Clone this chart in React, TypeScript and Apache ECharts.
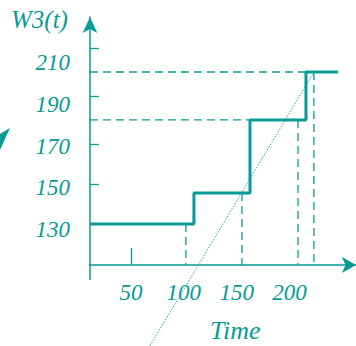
import React, { useEffect, useRef } from "react";
import * as echarts from "echarts";

// ----- data -----
const yLabelValues = [130, 150, 170, 190, 210];
const yTickValues = [151.8, 171, 194, 217];
const xLabelValues = [50, 100, 150, 200];
const xTickValues = [50];

// step curve W3(t): [t, W]
const stepPoints: [number, number][] = [
  [11.3, 132.6],
  [109.6, 132.6],
  [109.6, 147.5],
  [162.6, 147.5],
  [162.6, 182.5],
  [215.5, 182.5],
  [215.5, 205.5],
  [245.7, 205.5],
];

// dashed guide lines: horizontal [xFrom, xTo, y], vertical [x, yFrom]
const dashedHorizontal: [number, number, number][] = [
  [11.3, 215.5, 205.5],
  [11.3, 162.6, 182.5],
];
const dashedVertical: [number, number][] = [
  [102, 132.6],
  [155, 147.5],
  [208, 182.5],
  [223, 205.5],
];

// dotted line endpoints
const dottedLine: [number, number][] = [
  [68, 74.1],
  [223, 205.5],
];

// axis extents
const X_MIN = 11.34;
const X_MAX = 262.8;
const Y_MIN = 112.9;
const Y_MAX = 231.9;

const TEAL = "#079b95";
const FONT = "'Liberation Serif', 'DejaVu Serif', serif";

export default function App() {
  const ref = useRef<HTMLDivElement>(null);

  useEffect(() => {
    if (!ref.current) return;
    const chart = echarts.init(ref.current, undefined, { renderer: "svg" });

    const series: any[] = [];

    series.push({
      type: "line",
      data: stepPoints,
      symbol: "none",
      lineStyle: { color: TEAL, width: 3 },
      silent: true,
      z: 5,
    });

    dashedHorizontal.forEach(([x0, x1, y]) => {
      series.push({
        type: "line",
        data: [
          [x0, y],
          [x1, y],
        ],
        symbol: "none",
        lineStyle: { color: TEAL, width: 1.3, type: [8, 5] },
        silent: true,
      });
    });

    dashedVertical.forEach(([x, y]) => {
      series.push({
        type: "line",
        data: [
          [x, y],
          [x, Y_MIN],
        ],
        symbol: "none",
        lineStyle: { color: TEAL, width: 1.3, type: [8, 5] },
        silent: true,
      });
    });

    series.push({
      type: "line",
      data: dottedLine,
      symbol: "none",
      clip: false,
      lineStyle: { color: TEAL, width: 1, type: [1.5, 1.5], opacity: 0.9 },
      silent: true,
    });

    // axis stubs extending past the crossing
    series.push({
      type: "line",
      data: [
        [X_MIN, Y_MIN],
        [X_MIN, 105.7],
      ],
      symbol: "none",
      clip: false,
      lineStyle: { color: TEAL, width: 1.5 },
      silent: true,
    });
    series.push({
      type: "line",
      data: [
        [X_MIN, Y_MIN],
        [4.7, Y_MIN],
      ],
      symbol: "none",
      clip: false,
      lineStyle: { color: TEAL, width: 1.5 },
      silent: true,
    });

    const option: any = {
      animation: false,
      grid: { left: 90, right: 0, top: 17, bottom: 81, containLabel: false },
      xAxis: {
        type: "value",
        min: X_MIN,
        max: X_MAX,
        splitLine: { show: false },
        axisLine: {
          show: true,
          lineStyle: { color: TEAL, width: 1.5 },
          symbol: ["none", "arrow"],
          symbolSize: [12, 14],
        },
        axisTick: {
          show: true,
          inside: true,
          length: 17,
          customValues: xTickValues,
          lineStyle: { color: TEAL, width: 1.3 },
        },
        axisLabel: {
          customValues: xLabelValues,
          color: TEAL,
          fontFamily: FONT,
          fontStyle: "italic",
          fontSize: 23,
          margin: 16,
        },
      },
      yAxis: {
        type: "value",
        min: Y_MIN,
        max: Y_MAX,
        splitLine: { show: false },
        axisLine: {
          show: true,
          lineStyle: { color: TEAL, width: 1.5 },
          symbol: ["none", "arrow"],
          symbolSize: [11, 16],
        },
        axisTick: {
          show: true,
          inside: true,
          length: 9,
          customValues: yTickValues,
          lineStyle: { color: TEAL, width: 1.3 },
        },
        axisLabel: {
          customValues: yLabelValues,
          color: TEAL,
          fontFamily: FONT,
          fontStyle: "italic",
          fontSize: 23,
          margin: 20,
        },
      },
      graphic: [
        {
          type: "text",
          left: 11,
          top: 7,
          style: {
            text: "W3(t)",
            fill: TEAL,
            font: `italic 25px ${FONT}`,
          },
        },
        {
          type: "text",
          left: 210,
          top: 317,
          style: {
            text: "Time",
            fill: TEAL,
            font: `italic 26px ${FONT}`,
          },
        },
        {
          type: "polygon",
          shape: {
            points: [
              [10, 128],
              [0, 134],
              [0, 150],
            ],
          },
          style: { fill: TEAL },
        },
      ],
      series,
    };

    chart.setOption(option);
    return () => chart.dispose();
  }, []);

  return (
    <div
      ref={ref}
      style={{ position: "absolute", left: 0, top: 0, width: 356, height: 346 }}
    />
  );
}
